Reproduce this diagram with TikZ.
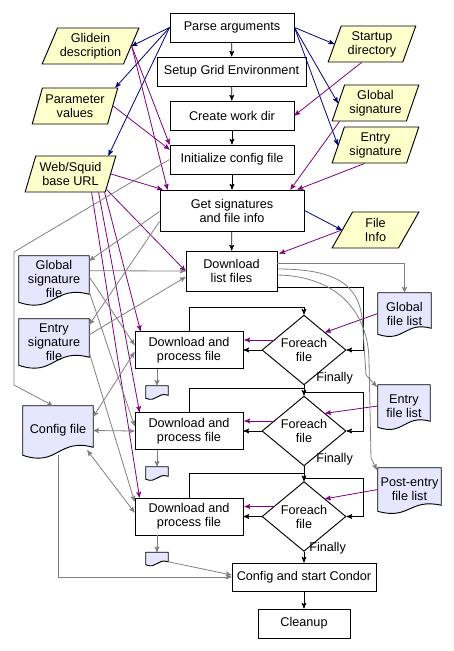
\documentclass[tikz,border=0pt]{standalone}
\usepackage{fontspec}
\setmainfont{Liberation Sans}
\usepackage{tikz}
\usetikzlibrary{calc}
\usetikzlibrary{arrows}
\usetikzlibrary{shapes.geometric}
\usetikzlibrary{backgrounds}
\definecolor{navyline}{RGB}{0,0,128}
\definecolor{purpline}{RGB}{128,0,128}
\definecolor{grayline}{RGB}{128,128,128}
\definecolor{iofill}{RGB}{255,255,204}
\definecolor{docfill}{RGB}{230,230,255}
\tikzset{
  sz/.style 2 args={minimum width=#1*0.75pt, minimum height=#2*0.75pt},
  box/.style={draw, line width=0.7pt, fill=white, inner sep=0pt, align=center},
  io/.style={trapezium, trapezium left angle=68, trapezium right angle=112, trapezium stretches=true,
    draw, line width=0.7pt, fill=iofill, inner sep=0pt, align=center},
  doc/.style={inner sep=0pt, align=center},
  docline/.style={draw, line width=0.7pt, fill=docfill},
  loopdiamond/.style={diamond, draw, line width=0.7pt, fill=white, inner sep=0pt, align=center,
    minimum width=84*0.75pt, minimum height=53*0.75pt},
  flowarr/.style={->, >=stealth', line width=0.6pt, black},
  ctrlarr/.style={->, >=stealth', line width=0.6pt, navyline},
  dataarr/.style={->, >=stealth', line width=0.6pt, purpline},
  filearr/.style={->, >=stealth', line width=0.6pt, grayline},
  filearrs/.style={<->, >=stealth', line width=0.6pt, grayline},
  every node/.style={font=\fontsize{9.5}{10.5}\selectfont}
}
\newcommand{\docwave}[2]{%
  \begin{pgfonlayer}{background}
  \draw[docline] (#1.north west) -- (#1.north east) -- ($(#1.south east)+(0,-#2)$)
    .. controls ($(#1.south)+(0,-2.2*#2)$) and ($(#1.south)+(0,1.5*#2)$) .. (#1.south west) -- cycle;
  \end{pgfonlayer}}

\begin{document}
\begin{tikzpicture}[x=0.75pt,y=-0.75pt]
\useasboundingbox (0,0) rectangle (454,651);

% main column
\node[box, sz={124}{29}] (parse) at (232,27.5) {Parse arguments};
\node[box, sz={149}{29}] (setup) at (231.5,71.5) {Setup Grid Environment};
\node[box, sz={124}{29}] (workdir) at (232,115.5) {Create work dir};
\node[box, sz={124}{29}] (initcfg) at (232,159.5) {Initialize config file};
\node[box, sz={144}{41}] (getsig) at (232,210.5) {Get signatures\\and file info};
\node[box, sz={91}{40}] (listdl) at (231.5,271) {Download\\list files};
\foreach \i/\y in {1/350,2/431,3/516.5} {
  \node[box, sz={108}{37}] (proc\i) at (189,\y) {Download and\\process file};
  \node[loopdiamond] (each\i) at (304,\y) {Foreach\\file};
  \node[doc, sz={22}{12}] (sd\i) at (157,\y+42) {};
  \docwave{sd\i}{3}
}
\node[box, sz={144}{28}] (condor) at (304,577) {Config and start Condor};
\node[box, sz={92}{29}] (cleanup) at (304,623.5) {Cleanup};
\node[anchor=west, inner sep=0pt] (fin1) at (316,378) {Finally};
\node[anchor=west, inner sep=0pt] (fin2) at (316,459.5) {Finally};
\node[anchor=west, inner sep=0pt] (fin3) at (309,548) {Finally};

% inputs
\node[io, sz={97}{36}, trapezium left angle=61, trapezium right angle=119] (glidein) at (90.5,46) {Glidein\\description};
\node[io, sz={86}{36}] (param) at (75,106) {Parameter\\values};
\node[io, sz={91}{36}] (web) at (70.5,174) {Web/Squid\\base URL};
\node[io, sz={88}{36}] (startup) at (372,44) {Startup\\directory};
\node[io, sz={87}{36}] (gsig) at (375.5,103) {Global\\signature};
\node[io, sz={87}{36}] (esig) at (375.5,145) {Entry\\signature};
\node[io, sz={87}{36}] (finfo) at (375.5,230) {File\\Info};

% files
\node[doc, sz={70}{46}] (gsigf) at (54,279) {Global\\signature\\file};
\node[doc, sz={70}{46}] (esigf) at (54,342) {Entry\\signature\\file};
\node[doc, sz={70}{49}] (cfg) at (58,430.5) {Config file};
\node[doc, sz={53}{41}] (glist) at (404.5,313.5) {Global\\file list};
\node[doc, sz={52}{42}] (elist) at (404,406) {Entry\\file list};
\node[doc, sz={63}{43}] (plist) at (409.5,489.5) {Post-entry\\file list};
\docwave{gsigf}{8}
\docwave{esigf}{8}
\docwave{cfg}{8}
\docwave{glist}{6}
\docwave{elist}{6}
\docwave{plist}{6}

% control flow
\draw[flowarr] (parse) -- (setup);
\draw[flowarr] (setup) -- (workdir);
\draw[flowarr] (workdir) -- (initcfg);
\draw[flowarr] (initcfg) -- (getsig);
\draw[flowarr] (getsig) -- (listdl);
\draw[flowarr] ($(listdl.east)+(0,16)$) -- ++(86,0) |- (each1.east);
\draw[flowarr] (each1.south) -- ++(0,7) -- ++(59,0) |- (each2.east);
\draw[flowarr] (each2.south) -- ++(0,12) -- ++(59,0) |- (each3.east);
\draw[flowarr] (each3.south) -- (condor.north);
\draw[flowarr] (condor) -- (cleanup);
\foreach \i in {1,2,3} {
  \draw[flowarr] (each\i.west) -- (proc\i.east);
  \draw[flowarr] (proc\i.north) -- ++(0,-24) -| (each\i.north);
  \draw[filearr] (proc\i.south -| sd\i.north) -- (sd\i.north);
  \draw[dataarr] ($(each\i.west)+(13,-10)$) -- ($(proc\i.east)+(1,-10)$);
}

% arguments
\draw[ctrlarr] (parse.west) -- (glidein.right side);
\draw[ctrlarr] (parse.west) -- ($(param.top right corner)+(-3,0)$);
\draw[ctrlarr] (parse.west) -- ($(web.top right corner)+(-8,0)$);
\draw[ctrlarr] (parse.east) -- (startup.left side);
\draw[ctrlarr] (parse.east) -- (gsig.left side);
\draw[ctrlarr] (parse.east) -- (esig.left side);
\draw[ctrlarr] (getsig.east) -- (finfo.left side);

% values used
\draw[dataarr] ($(startup.bottom left corner)+(34,0)$) -- (workdir.east);
\draw[dataarr] ($(gsig.bottom left corner)+(8,0)$) -- ($(getsig.north east)+(-14,0)$);
\draw[dataarr] ($(esig.bottom left corner)+(33,0)$) -- ($(getsig.north east)+(-7,0)$);
\draw[dataarr] (finfo.left side) -- ($(listdl.north east)+(2,3)$);
\draw[dataarr] (glidein.right side) -- (initcfg.north west);
\draw[dataarr] (glidein.right side) -- ($(getsig.north west)+(8,0)$);
\draw[dataarr] (param.right side) -- ($(initcfg.west)+(0,-10)$);
\draw[dataarr] (web.right side) -- ($(getsig.north west)+(3,0)$);
\draw[dataarr] ($(web.bottom right corner)+(1,-3)$) -- (listdl.west);
\draw[dataarr] ($(web.bottom right corner)+(-1,0)$) -- ($(proc1.north west)+(6,0)$);
\draw[dataarr] ($(web.bottom right corner)+(-7,0)$) -- ($(proc2.north west)+(5,0)$);
\draw[dataarr] ($(web.bottom right corner)+(-14,0)$) -- ($(proc3.north west)+(5,0)$);
\draw[dataarr] (glist.west) -- (each1.north east);
\draw[dataarr] (elist.west) -- (each2.north east);
\draw[dataarr] (plist.west) -- (each3.north east);

% files read and written
\draw[filearr] (initcfg.west) -- (14,252) -- (14,385) -- ($(cfg.north)+(-5,0)$);
\draw[filearr] ($(getsig.west)+(0,1)$) -- ($(gsigf.north east)+(0,5)$);
\draw[filearr] ($(getsig.west)+(0,11)$) -- ($(esigf.north east)+(0,6)$);
\draw[filearr] ($(gsigf.north east)+(0,15)$) -- (listdl.west);
\draw[filearr] ($(esigf.north east)+(0,16)$) -- ($(listdl.west)+(0,6)$);
\draw[filearr] ($(gsigf.north east)+(0,21)$) -- ($(proc1.west)+(0,-5)$);
\draw[filearr] ($(gsigf.north east)+(0,36)$) -- ($(proc2.west)+(0,-5)$);
\draw[filearr] ($(esigf.north east)+(0,34)$) -- ($(proc3.west)+(0,-15)$);
\draw[filearrs] ($(cfg.north east)+(0,11)$) -- ($(proc1.west)+(0,2)$);
\draw[filearrs] (cfg.east) -- (proc2.west);
\draw[filearrs] ($(cfg.south east)+(-6,-5)$) -- ($(proc3.west)+(0,-4)$);
\draw[filearr] (cfg.south) |- (condor.west);
\draw[filearr] ($(sd3.south east)+(0,-3)$) -- ($(condor.west)+(0,-2)$);
\draw[filearr] ($(listdl.east)+(0,-8)$) -| (glist.north);
\draw[filearr] ($(listdl.east)+(0,-2)$) .. controls (345,269) and (362,290) .. (363,330) -- (366,375) -- ($(elist.north west)+(-1,2)$);
\draw[filearr] ($(listdl.east)+(0,4)$) .. controls (335,276) and (368,310) .. (369,360) -- (371,458) -- ($(plist.north west)+(-1,2)$);
\end{tikzpicture}
\end{document}
